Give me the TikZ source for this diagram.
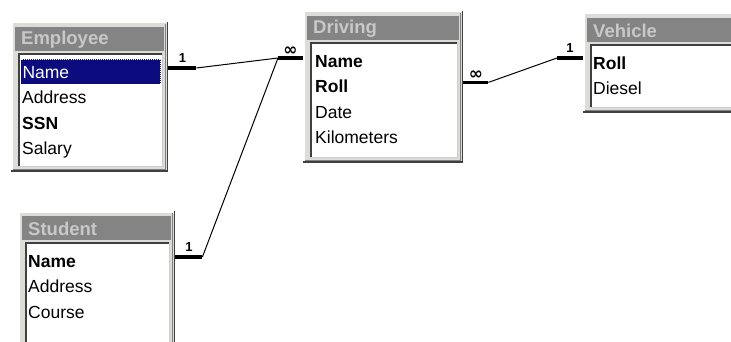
\documentclass[tikz,border=0pt]{standalone}
\usepackage{fontspec}
\setmainfont{Liberation Sans}
\newfontfamily\symfont{DejaVu Sans}
\usepackage{tikz}
\usetikzlibrary{positioning,calc}

\definecolor{winface}{HTML}{DCDCD8}
\definecolor{winshade}{HTML}{404040}
\definecolor{captionbg}{HTML}{848484}
\definecolor{captionfg}{HTML}{C8C8C8}
\definecolor{selblue}{HTML}{0C0C7E}

% table window: name, x1, y1, x2, y2, caption
\newcommand{\tablewin}[6]{%
  \node[inner sep=0, anchor=north west, minimum width={#4-#2}, minimum height={#5-#3}] (#1) at (#2,#3) {};
  \fill[winface] (#2,#3) rectangle (#4,#5);
  \draw[white, line width=1.5] (#2+0.75,#5) -- (#2+0.75,#3+0.75) -- (#4,#3+0.75);
  \draw[winshade, line width=1.5] (#2,#5-0.75) -- (#4-0.75,#5-0.75) -- (#4-0.75,#3);
  \draw[gray, line width=1] (#2+2,#5-2.5) -- (#4-2.5,#5-2.5) -- (#4-2.5,#3+2);
  \fill[captionbg] (#2+4,#3+5) rectangle (#4-4,#3+29);
  \node[caption] (#1-caption) at (#2+10,#3+18) {#6};
  \fill[white] (#2+7,#3+31) rectangle (#4-5,#5-5);
  \draw[winshade, line width=2] (#2+8,#5-5) -- (#2+8,#3+32) -- (#4-5,#3+32);
  \draw[gray!40, line width=1] (#2+7,#5-5.5) -- (#4-5.5,#5-5.5) -- (#4-5.5,#3+31);
}

\begin{document}
\begin{tikzpicture}[x=1pt, y=-1pt,
  caption/.style={anchor=west, inner sep=0, text=captionfg, font=\fontsize{18.5}{20}\selectfont\bfseries},
  field/.style={anchor=west, inner xsep=2, inner ysep=0, minimum height=25, text height=12.5, text depth=0, font=\fontsize{17.5}{20}\selectfont},
  key field/.style={field, font=\fontsize{17.5}{20}\selectfont\bfseries},
  next/.style={below=0pt of #1.south west, anchor=north west},
  stub/.style={line width=3.5, line cap=butt},
  link/.style={line width=1},
  card/.style={above=3.5pt, inner sep=0, font=\fontsize{13}{13}\selectfont\bfseries},
  many/.style={card, above=1pt, font=\symfont\fontsize{17}{17}\selectfont\bfseries}]

  \useasboundingbox (0,0) rectangle (731,342);
  \clip (0,0) rectangle (731,342);
  \fill[white] (0,0) rectangle (731,342);

  \tablewin{emp}{11}{22}{168}{172}{Employee}
  \node[field, fill=selblue, text=white, text width=136, align=left, draw=white, densely dotted, line width=1] (emp-name) at (20,72) {Name};
  \node[field, next=emp-name] (emp-addr) {Address};
  \node[key field, next=emp-addr] (emp-ssn) {SSN};
  \node[field, next=emp-ssn] (emp-sal) {Salary};

  \tablewin{drv}{303}{11}{463}{163}{Driving}
  \node[key field] (drv-name) at (313,61) {Name};
  \node[key field, next=drv-name] (drv-roll) {Roll};
  \node[field, next=drv-roll] (drv-date) {Date};
  \node[field, next=drv-date] (drv-km) {Kilometers};

  \tablewin{veh}{583}{13}{745}{113}{Vehicle}
  \node[key field] (veh-roll) at (591,63) {Roll};
  \node[field, next=veh-roll] (veh-diesel) {Diesel};

  \tablewin{stu}{18}{211}{175}{350}{Student}
  \node[key field] (stu-name) at (26,261) {Name};
  \node[field, next=stu-name] (stu-addr) {Address};
  \node[field, next=stu-addr] (stu-course) {Course};

  % join lines
  \coordinate (emp-out) at ($(emp.east |- emp-name)+(0,-4)$);
  \coordinate (emp-j) at ($(emp-out)+(28,0)$);
  \coordinate (stu-out) at ($(stu.east |- stu-name)+(0,-4)$);
  \coordinate (stu-j) at ($(stu-out)+(27,0)$);
  \coordinate (drv-in) at ($(drv.west |- drv-name)+(0,-3)$);
  \coordinate (drv-j) at ($(drv-in)+(-25,0)$);
  \coordinate (drv-out) at ($(drv.east |- drv-roll)+(0,-4)$);
  \coordinate (drv-k) at ($(drv-out)+(25,0)$);
  \coordinate (veh-in) at ($(veh.west |- veh-roll)+(0,-5)$);
  \coordinate (veh-j) at ($(veh-in)+(-26,0)$);

  \draw[stub] (emp-out) -- node[card] {1} (emp-j);
  \draw[stub] (stu-out) -- node[card] {1} (stu-j);
  \draw[stub] (drv-j) -- node[many] {∞} (drv-in);
  \draw[stub] (drv-out) -- node[many] {∞} (drv-k);
  \draw[stub] (veh-j) -- node[card] {1} (veh-in);

  \draw[link] (emp-j) -- (drv-j);
  \draw[link] (stu-j) -- (drv-j);
  \draw[link] (drv-k) -- (veh-j);
\end{tikzpicture}
\end{document}
